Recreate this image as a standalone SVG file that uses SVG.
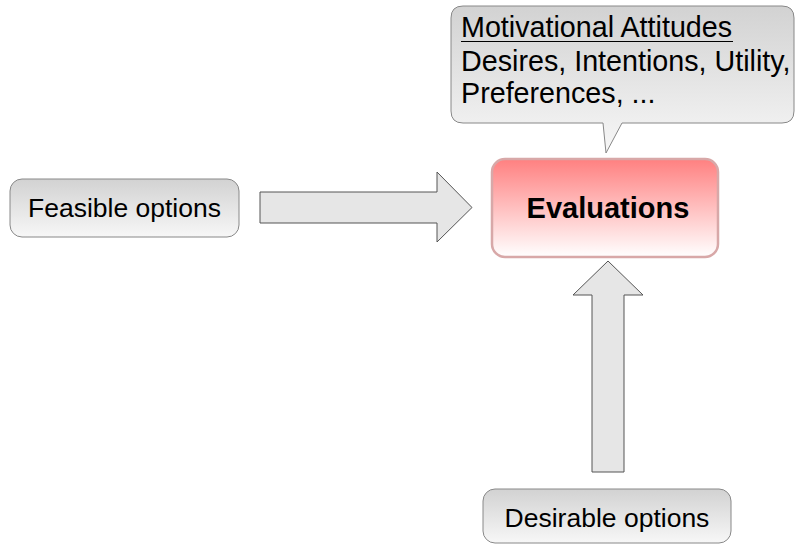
<svg xmlns="http://www.w3.org/2000/svg" width="795" height="545" viewBox="0 0 795 545">
<defs>
<linearGradient id="gray" x1="0" y1="0" x2="0" y2="1">
<stop offset="0" stop-color="#d2d2d2"/>
<stop offset="1" stop-color="#f7f7f7"/>
</linearGradient>
<linearGradient id="red" x1="0" y1="0" x2="0" y2="1">
<stop offset="0" stop-color="#ff8080"/>
<stop offset="1" stop-color="#ffffff"/>
</linearGradient>
</defs>
<style>
.box{fill:url(#gray);stroke:#888;stroke-width:1}
.arrow{fill:#e6e6e6;stroke:#555;stroke-width:1}
.lbl{font-family:"Liberation Sans",Arial,sans-serif;font-size:26.5px;fill:#000}
.call{font-family:"Liberation Sans",Arial,sans-serif;font-size:28.7px;fill:#000}
.eval{font-family:"Liberation Sans",Arial,sans-serif;font-size:29px;font-weight:bold;fill:#000}
</style>
<g id="connectors">
<path class="arrow" d="M260,192 L437,192 L437,172 L472,207.5 L437,242 L437,223 L260,223 Z"/>
<path class="arrow" d="M592,472 L592,295 L573,295 L608,261 L643,295 L624,295 L624,472 Z"/>
</g>
<g id="motivational">
<path class="box" d="M463,6 L782,6 Q794,6 794,18 L794,111 Q794,123 782,123 L622,123 L606,153 L603,123 L463,123 Q451,123 451,111 L451,18 Q451,6 463,6 Z"/>
<text class="call" x="461" y="37">Motivational Attitudes</text>
<line x1="461" y1="41.5" x2="733" y2="41.5" stroke="#000" stroke-width="1.2"/>
<text class="call" x="461" y="71">Desires, Intentions, Utility,</text>
<text class="call" x="461" y="103">Preferences, ...</text>
</g>
<g id="feasible">
<rect class="box" x="10" y="179" width="229" height="58" rx="12"/>
<text class="lbl" x="124.5" y="217" text-anchor="middle">Feasible options</text>
</g>
<g id="evaluations">
<rect x="492" y="159" width="226" height="98" rx="13" fill="url(#red)" stroke="#d8a8a8" stroke-width="2.5"/>
<text class="eval" x="608" y="218" text-anchor="middle">Evaluations</text>
</g>
<g id="desirable">
<rect class="box" x="483" y="489" width="248" height="54" rx="12"/>
<text class="lbl" x="607" y="527" text-anchor="middle">Desirable options</text>
</g>
</svg>
